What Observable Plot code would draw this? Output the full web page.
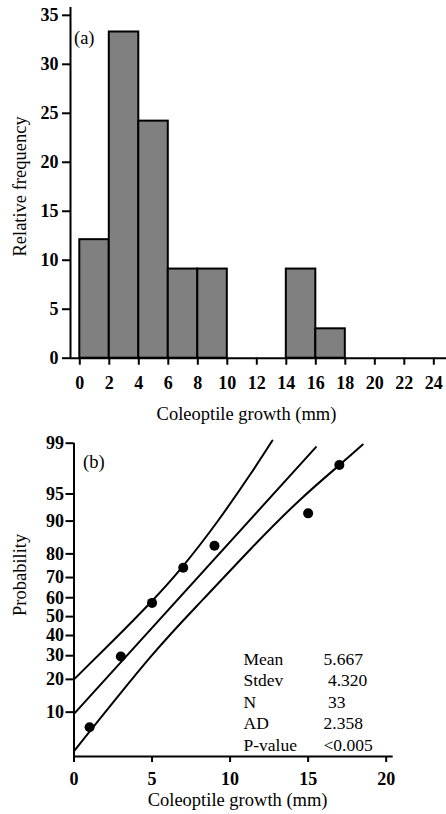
<!DOCTYPE html>
<html>
<head>
<meta charset="utf-8">
<script src="https://cdn.jsdelivr.net/npm/d3@7"></script>
<script src="https://cdn.jsdelivr.net/npm/@observablehq/plot@0.6"></script>
<style>
  body { margin: 0; background: #fff; }
  #chart svg { display: block; }
</style>
</head>
<body>
<div id="chart"></div>
<script>
// ---------- Panel (a): histogram ----------
const binStart = [0, 2, 4, 6, 8, 14, 16];
const binWidth = 2;
const relFreq = [12.1, 33.3, 24.2, 9.1, 9.1, 9.1, 3.0];
const histXTicks = [0, 2, 4, 6, 8, 10, 12, 14, 16, 18, 20, 22, 24];
const histYTicks = [0, 5, 10, 15, 20, 25, 30, 35];

// ---------- Panel (b): normal probability plot ----------
const growth = [1, 3, 5, 7, 9, 15, 17];
const probPct = [6.9, 29.6, 57.3, 74.4, 82.9, 91.7, 97.9];
const fitX = [0, 15.5];
const fitPct = [9.6, 98.85];
const upperX = [0, 2.5, 4.89, 6.93, 9.18, 11.32, 12.71];
const upperPct = [20, 37.3, 57.4, 74.7, 89.85, 97.23, 99.09];
const lowerX = [0, 4.89, 8.21, 11.32, 14.42, 17.04, 18.5];
const lowerPct = [3.55, 29.3, 58.6, 81.8, 94.0, 97.93, 98.95];
const probTicks = [10, 20, 30, 40, 50, 60, 70, 80, 90, 95, 99];
const probXTicks = [0, 5, 10, 15, 20];
const probDomainPct = [3.03, 99];
const statLabels = ["Mean", "Stdev", "N", "AD", "P-value"];
const statValues = ["5.667", "\u00a04.320", "\u00a033", "2.358", "<0.005"];

// inverse standard normal CDF (Acklam) for the probability scale
function probit(p) {
  const a = [-3.969683028665376e+01, 2.209460984245205e+02, -2.759285104469687e+02, 1.383577518672690e+02, -3.066479806614716e+01, 2.506628277459239e+00];
  const b = [-5.447609879822406e+01, 1.615858368580409e+02, -1.556989798598866e+02, 6.680131188771972e+01, -1.328068155288572e+01];
  const c = [-7.784894002430293e-03, -3.223964580411365e-01, -2.400758277161838e+00, -2.549732539343734e+00, 4.374664141464968e+00, 2.938163982698783e+00];
  const d = [7.784695709041462e-03, 3.224671290700398e-01, 2.445134137142996e+00, 3.754408661907416e+00];
  const pl = 0.02425, ph = 1 - pl;
  let q, r;
  if (p < pl) {
    q = Math.sqrt(-2 * Math.log(p));
    return (((((c[0]*q+c[1])*q+c[2])*q+c[3])*q+c[4])*q+c[5]) / ((((d[0]*q+d[1])*q+d[2])*q+d[3])*q+1);
  }
  if (p <= ph) {
    q = p - 0.5; r = q * q;
    return (((((a[0]*r+a[1])*r+a[2])*r+a[3])*r+a[4])*r+a[5])*q / (((((b[0]*r+b[1])*r+b[2])*r+b[3])*r+b[4])*r+1);
  }
  q = Math.sqrt(-2 * Math.log(1 - p));
  return -(((((c[0]*q+c[1])*q+c[2])*q+c[3])*q+c[4])*q+c[5]) / ((((d[0]*q+d[1])*q+d[2])*q+d[3])*q+1);
}
const Z = pct => probit(pct / 100);

const bins = binStart.map((s, i) => ({lo: s, hi: s + binWidth, f: relFreq[i]}));
const points = growth.map((x, i) => ({x, p: probPct[i]}));
const fitLine = fitX.map((x, i) => ({x, p: fitPct[i]}));
const upperBand = upperX.map((x, i) => ({x, p: upperPct[i]}));
const lowerBand = lowerX.map((x, i) => ({x, p: lowerPct[i]}));
const tickZ = probTicks.map(Z);
const tickLabel = new Map(tickZ.map((z, i) => [z, String(probTicks[i])]));

const font = "'Liberation Serif', 'Times New Roman', serif";
const chart = document.getElementById("chart");

const xA = [-0.63, 24.86];
const yA = [0, 35.8];
const plotA = Plot.plot({
  width: 446, height: 425,
  marginLeft: 70, marginRight: 0, marginTop: 7, marginBottom: 67.3,
  style: {fontFamily: font, fontSize: "18px", color: "#000", background: "#fff", overflow: "visible"},
  x: {domain: xA},
  y: {domain: yA},
  marks: [
    Plot.rectY(bins, {x1: "lo", x2: "hi", y1: 0, y2: "f", fill: "#808080", stroke: "#000", strokeWidth: 2}),
    Plot.ruleX([xA[0]], {y1: yA[0], y2: yA[1], stroke: "#000", strokeWidth: 2}),
    Plot.ruleY([0], {stroke: "#000", strokeWidth: 2}),
    Plot.axisY({ticks: histYTicks, tickSize: 8, tickPadding: 4, strokeWidth: 2, fontWeight: "bold", fontSize: 18, label: null}),
    Plot.axisX({ticks: histXTicks, tickSize: 7, tickPadding: 11, strokeWidth: 2, fontWeight: "bold", fontSize: 18, label: null}),
    Plot.text(["Relative frequency"], {frameAnchor: "left", rotate: -90, dx: -50.3, dy: 3.6, textAnchor: "middle", lineAnchor: "middle", fontSize: 18.5}),
    Plot.text(["Coleoptile growth (mm)"], {frameAnchor: "bottom", dx: -12, dy: 61.3, lineAnchor: "bottom", fontSize: 18.5}),
    Plot.text(["(a)"], {frameAnchor: "top-left", dx: 3.5, dy: 36, textAnchor: "start", lineAnchor: "bottom", fontSize: 18.5})
  ]
});

const xB = [0, 20.45];
const yB = probDomainPct.map(Z);
const plotB = Plot.plot({
  width: 446, height: 389,
  marginLeft: 73.5, marginRight: 53.3, marginTop: 17.7, marginBottom: 58,
  style: {fontFamily: font, fontSize: "18px", color: "#000", background: "#fff", overflow: "visible"},
  x: {domain: xB},
  y: {domain: yB},
  marks: [
    Plot.ruleX([0], {y1: yB[0], y2: yB[1], stroke: "#000", strokeWidth: 2}),
    Plot.ruleY([yB[0]], {x1: xB[0], x2: xB[1], stroke: "#000", strokeWidth: 2}),
    Plot.axisY(tickZ, {tickFormat: z => tickLabel.get(z), tickSize: 8, tickPadding: 2, strokeWidth: 2, fontWeight: "bold", fontSize: 18, label: null}),
    Plot.axisX({ticks: probXTicks, tickSize: 6, tickPadding: 10, strokeWidth: 2, fontWeight: "bold", fontSize: 18, label: null}),
    Plot.line(upperBand, {x: "x", y: d => Z(d.p), curve: "natural", stroke: "#000", strokeWidth: 2}),
    Plot.line(fitLine, {x: "x", y: d => Z(d.p), stroke: "#000", strokeWidth: 2}),
    Plot.line(lowerBand, {x: "x", y: d => Z(d.p), curve: "natural", stroke: "#000", strokeWidth: 2}),
    Plot.dot(points, {x: "x", y: d => Z(d.p), r: 5, fill: "#000", stroke: null}),
    Plot.text(["Probability"], {frameAnchor: "left", rotate: -90, dx: -54, dy: -25, textAnchor: "middle", lineAnchor: "middle", fontSize: 18.5}),
    Plot.text(["Coleoptile growth (mm)"], {frameAnchor: "bottom", dx: 4, dy: 49, lineAnchor: "bottom", fontSize: 18.5}),
    Plot.text(["(b)"], {frameAnchor: "top-left", dx: 9, dy: 24.5, textAnchor: "start", lineAnchor: "bottom", fontSize: 18.5}),
    Plot.text([statLabels.join("\n")], {frameAnchor: "bottom-left", dx: 169.5, dy: -6, textAnchor: "start", lineAnchor: "bottom", lineHeight: 1.22, fontSize: 17.5}),
    Plot.text([statValues.join("\n")], {frameAnchor: "bottom-left", dx: 249.5, dy: -6, textAnchor: "start", lineAnchor: "bottom", lineHeight: 1.22, fontSize: 17.5})
  ]
});

chart.appendChild(plotA);
chart.appendChild(plotB);
</script>
</body>
</html>
